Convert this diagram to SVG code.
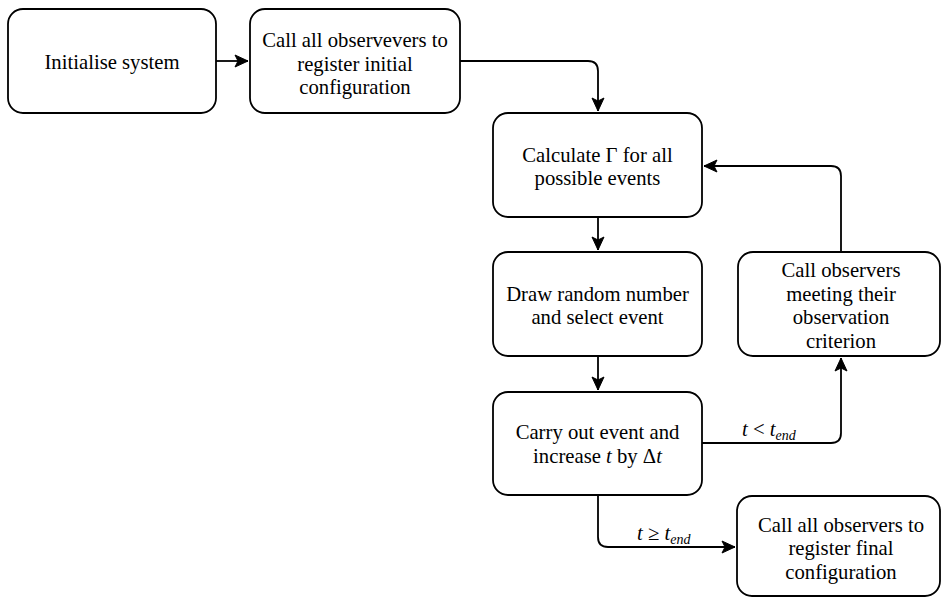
<svg xmlns="http://www.w3.org/2000/svg" width="941" height="599" viewBox="0 0 941 599">
<style>
.box{fill:#fff;stroke:#000;stroke-width:1.8}
.t{font-family:"Liberation Serif","Times New Roman",serif;font-size:20.7px;fill:#000;text-anchor:middle}
.lbl{font-family:"Liberation Serif","Times New Roman",serif;font-size:20.7px;fill:#000}
.e{fill:none;stroke:#000;stroke-width:1.8}
</style>
<defs>
<marker id="arr" markerUnits="userSpaceOnUse" markerWidth="16" markerHeight="16" viewBox="-14 -8 16 16" refX="0" refY="0" orient="auto">
<path d="M-13,-6 L0,0 L-13,6 L-10,0 Z" fill="#000" stroke="#000" stroke-width="1"/>
</marker>
</defs>
<rect width="941" height="599" fill="#fff"/>
<g id="connectors">
<path class="e" d="M216,61 L248,61" marker-end="url(#arr)"/>
<path class="e" d="M460,61 L588,61 Q598,61 598,71 L598,111" marker-end="url(#arr)"/>
<path class="e" d="M598,217 L598,250" marker-end="url(#arr)"/>
<path class="e" d="M598,356 L598,390" marker-end="url(#arr)"/>
<path class="e" d="M702,443 L831,443 Q841,443 841,433 L841,358" marker-end="url(#arr)"/>
<path class="e" d="M841,252 L841,176 Q841,166 831,166 L704,166" marker-end="url(#arr)"/>
<path class="e" d="M598,495 L598,537 Q598,547 608,547 L735,547" marker-end="url(#arr)"/>
<text class="lbl" x="742" y="436"><tspan font-style="italic">t</tspan> &lt; <tspan font-style="italic">t</tspan><tspan font-style="italic" font-size="14" dy="4">end</tspan></text>
<text class="lbl" x="637" y="540"><tspan font-style="italic">t</tspan> ≥ <tspan font-style="italic">t</tspan><tspan font-style="italic" font-size="14" dy="4">end</tspan></text>
</g>
<g id="init">
<rect class="box" x="8" y="9" width="208" height="104" rx="15"/>
<text class="t" x="112" y="69">Initialise system</text>
</g>
<g id="register-initial">
<rect class="box" x="250" y="9" width="210" height="104" rx="15"/>
<text class="t" x="355" y="47">Call all observevers to</text>
<text class="t" x="355" y="70.5">register initial</text>
<text class="t" x="355" y="94">configuration</text>
</g>
<g id="calculate">
<rect class="box" x="493" y="113" width="209" height="104" rx="15"/>
<text class="t" x="597.5" y="161.5">Calculate Γ for all</text>
<text class="t" x="597.5" y="185">possible events</text>
</g>
<g id="draw">
<rect class="box" x="493" y="252" width="209" height="104" rx="15"/>
<text class="t" x="597.5" y="300.5">Draw random number</text>
<text class="t" x="597.5" y="324">and select event</text>
</g>
<g id="observers">
<rect class="box" x="738" y="252" width="202" height="104" rx="15"/>
<text class="t" x="841" y="277">Call observers</text>
<text class="t" x="841" y="300.5">meeting their</text>
<text class="t" x="841" y="324">observation</text>
<text class="t" x="841" y="347.5">criterion</text>
</g>
<g id="carry">
<rect class="box" x="493" y="392" width="209" height="103" rx="15"/>
<text class="t" x="597.5" y="439">Carry out event and</text>
<text class="t" x="597.5" y="462.5">increase <tspan font-style="italic">t</tspan> by Δ<tspan font-style="italic">t</tspan></text>
</g>
<g id="register-final">
<rect class="box" x="737" y="496" width="203" height="100" rx="15"/>
<text class="t" x="841" y="531.5">Call all observers to</text>
<text class="t" x="841" y="555">register final</text>
<text class="t" x="841" y="578.5">configuration</text>
</g>
</svg>
